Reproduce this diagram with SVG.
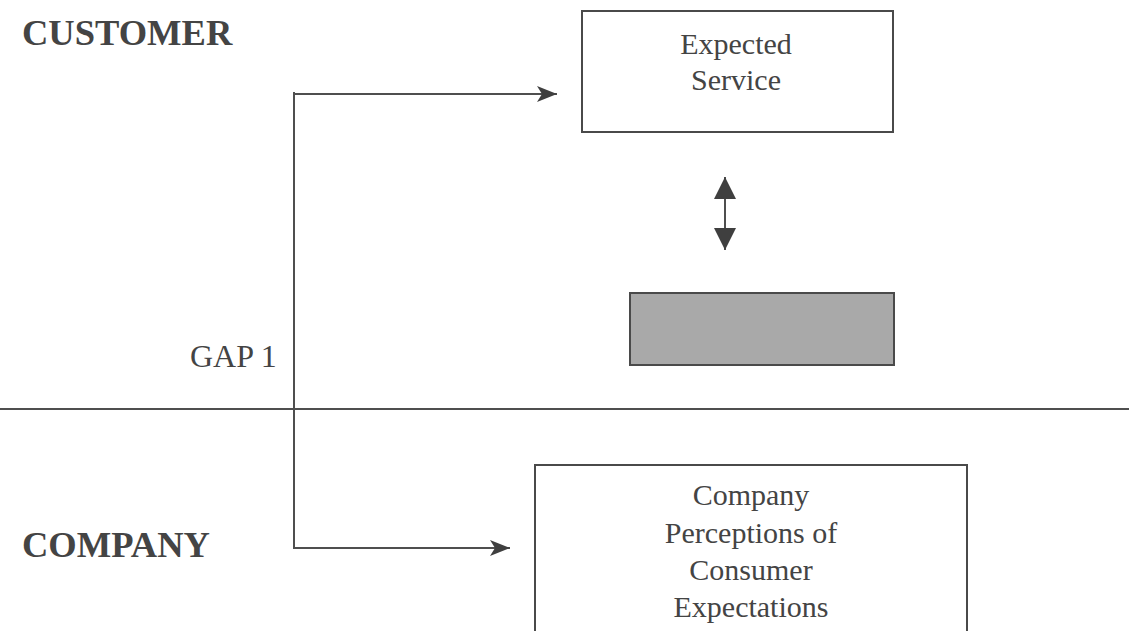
<svg xmlns="http://www.w3.org/2000/svg" width="1129" height="631" viewBox="0 0 1129 631">
  <defs>
    <style>
      .box { fill: #ffffff; stroke: #4a4a4a; stroke-width: 2; }
      .shade { fill: #a9a9a9; stroke: #4a4a4a; stroke-width: 2; }
      .line { fill: none; stroke: #4f4f4f; stroke-width: 2; }
      .label { font-family: "Liberation Serif", "Times New Roman", serif; fill: #444444; }
      .side { font-size: 36.5px; font-weight: bold; }
      .body { font-size: 30px; text-anchor: middle; }
      .gap { font-size: 32px; }
    </style>
    <marker id="head" viewBox="0 0 20 16" refX="20" refY="8" markerWidth="20" markerHeight="16" markerUnits="userSpaceOnUse" orient="auto">
      <path d="M0,0 L20,8 L0,16 L5,8 Z" fill="#3f3f3f"/>
    </marker>
    <marker id="tri" viewBox="0 0 22 22" refX="22" refY="11" markerWidth="22" markerHeight="22" markerUnits="userSpaceOnUse" orient="auto-start-reverse">
      <path d="M0,0 L22,11 L0,22 Z" fill="#3f3f3f"/>
    </marker>
  </defs>
  <rect width="1129" height="631" fill="#ffffff"/>

  <!-- section labels -->
  <g id="customer-label">
    <text class="label side" x="22" y="45">CUSTOMER</text>
  </g>
  <g id="company-label">
    <text class="label side" x="22" y="557">COMPANY</text>
  </g>

  <!-- boundary between customer and company -->
  <g id="boundary">
    <line class="line" x1="0" y1="409" x2="1129" y2="409"/>
  </g>

  <g id="expected-service">
    <rect class="box" x="582" y="11" width="311" height="121"/>
    <text class="label body" x="736" y="54">Expected</text>
    <text class="label body" x="736" y="90">Service</text>
  </g>

  <g id="perceived-service">
    <rect class="shade" x="630" y="293" width="264" height="72"/>
  </g>

  <g id="company-perceptions">
    <rect class="box" x="535" y="465" width="432" height="180"/>
    <text class="label body" x="751" y="505">Company</text>
    <text class="label body" x="751" y="543">Perceptions of</text>
    <text class="label body" x="751" y="580">Consumer</text>
    <text class="label body" x="751" y="617">Expectations</text>
  </g>

  <g id="gap1">
    <text class="label gap" x="190" y="367">GAP 1</text>
  </g>

  <g id="connectors">
    <line class="line" x1="294" y1="92" x2="294" y2="549"/>
    <line class="line" x1="293" y1="94" x2="557" y2="94" marker-end="url(#head)"/>
    <line class="line" x1="293" y1="548" x2="510" y2="548" marker-end="url(#head)"/>
    <line class="line" x1="725" y1="177" x2="725" y2="250" marker-start="url(#tri)" marker-end="url(#tri)"/>
  </g>
</svg>
